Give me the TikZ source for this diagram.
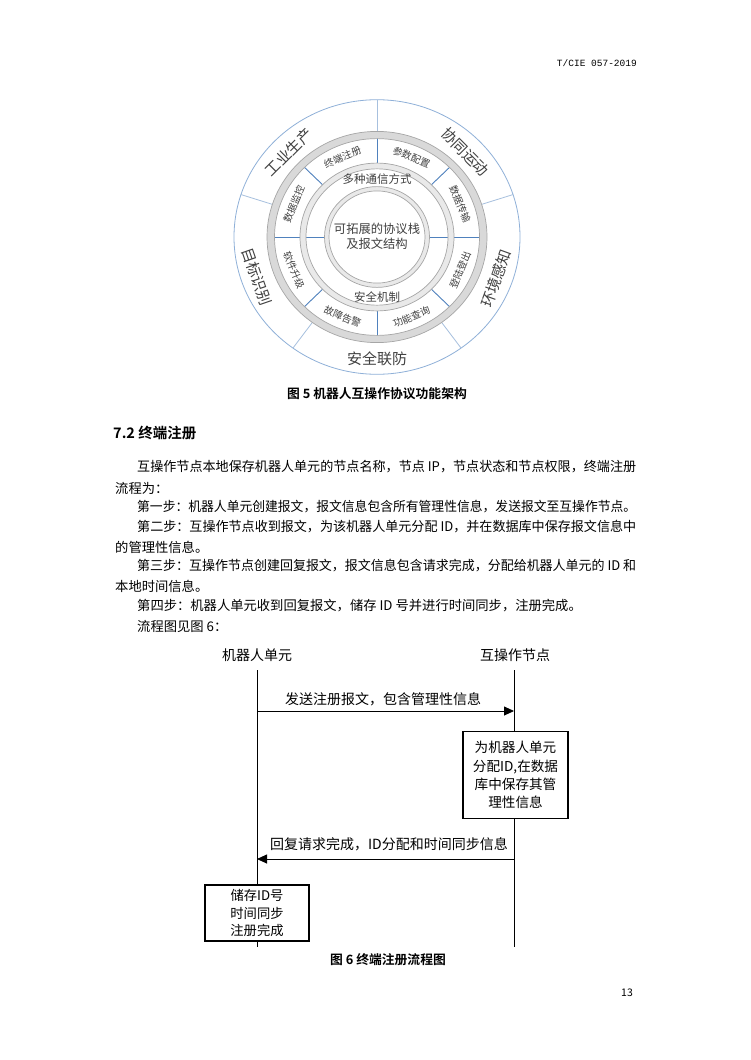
\documentclass[tikz,border=0pt]{standalone}
\usepackage{fontspec}
\usepackage{graphicx}
\setmainfont{Noto Sans CJK SC}[BoldFont={Noto Sans CJK SC Bold}]
\newfontfamily\hdrmono{Liberation Mono}
\usetikzlibrary{arrows.meta}

\definecolor{rimblue}{HTML}{8FB0D8}
\definecolor{spokeblue}{HTML}{4F81BD}
\definecolor{paleblue}{HTML}{A7C0DE}
\definecolor{ringfill}{HTML}{D9D9D9}
\definecolor{ringedge}{HTML}{A6A6A6}
\definecolor{thinfill}{HTML}{E9E9E9}
\definecolor{figtext}{HTML}{404040}

% one justified body line
\newcommand{\fullline}[1]{\resizebox{499pt}{\height}{#1}}

\begin{document}
\begin{tikzpicture}[
    x=1pt, y=1pt,
    font=\fontsize{13.3}{16}\selectfont,
    every node/.style={inner sep=0pt},
    body/.style={anchor=west},
    caption/.style={font=\fontsize{12.8}{15}\selectfont\bfseries},
    outlbl/.style={text=figtext, font=\fontsize{15}{17}\selectfont},
    seclbl/.style={text=figtext, font=\fontsize{9.8}{11}\selectfont},
    midlbl/.style={text=figtext, font=\fontsize{11.5}{13}\selectfont},
    rim/.style={draw=rimblue, line width=0.8},
    outspoke/.style={draw=paleblue, line width=0.8},
    inspoke/.style={draw=spokeblue, line width=0.9},
    ringedgeline/.style={draw=ringedge, line width=0.7},
    lane/.style={font=\fontsize{14}{16}\selectfont},
    lifeline/.style={line width=0.9},
    msg/.style={line width=0.9, -{Triangle[length=10pt, width=9pt]}},
    msglbl/.style={font=\fontsize{14}{16}\selectfont},
    procbox/.style={draw, line width=1.1, fill=white, align=center},
  ]

  % --- Page -----------------------------------------------------------------
  \fill[white] (0,0) rectangle (750,-1060);
  \useasboundingbox (0,0) rectangle (750,-1060);

  \node[anchor=east, font=\hdrmono\fontsize{9.5}{11}\selectfont] (hdr)
    at (637,-63) {T/CIE 057-2019};
  \node[font=\fontsize{10.5}{12}\selectfont] (pageno) at (627,-993) {13};

  % --- Figure 5: protocol rings --------------------------------------------
  \begin{scope}[shift={(377,-237)}, yscale=0.96]
    \draw[rim] (0,0) circle (143);
    \foreach \a in {18,90,162,234,306}
      \draw[outspoke] (\a:110) -- (\a:143);

    \foreach \a in {45,90,135,225,270,315}
      \draw[inspoke] (\a:77) -- (\a:103);
    \foreach \a in {0,180}
      \draw[inspoke] (\a:50) -- (\a:103);

    % thick grey ring
    \path[fill=ringfill, even odd rule] (0,0) circle (110) (0,0) circle (102.5);
    \draw[ringedgeline] (0,0) circle (110) (0,0) circle (102.5);
    % middle ring
    \path[fill=thinfill, even odd rule] (0,0) circle (77) (0,0) circle (71);
    \draw[ringedgeline] (0,0) circle (77) (0,0) circle (71);
    % inner ring
    \path[fill=thinfill, even odd rule] (0,0) circle (52.5) (0,0) circle (48);
    \draw[ringedgeline] (0,0) circle (52.5) (0,0) circle (48);

    \node[outlbl, rotate=45]  (prod)  at (135:125) {工业生产};
    \node[outlbl, rotate=-45] (coop)  at (45:125)  {协同运动};
    \node[outlbl, rotate=70]  (envi)  at (-20:127) {环境感知};
    \node[outlbl]             (safe)  at (270:127) {安全联防};
    \node[outlbl, rotate=-71] (targ)  at (199:127) {目标识别};

    \node[seclbl, rotate=22.5]  (reg)   at (112.5:90)  {终端注册};
    \node[seclbl, rotate=-22.5] (param) at (67.5:90)   {参数配置};
    \node[seclbl, rotate=-67.5] (trans) at (22.5:90)   {数据传输};
    \node[seclbl, rotate=67.5]  (login) at (-22.5:90)  {登陆登出};
    \node[seclbl, rotate=22.5]  (query) at (-67.5:90)  {功能查询};
    \node[seclbl, rotate=-22.5] (alarm) at (-112.5:90) {故障告警};
    \node[seclbl, rotate=-67.5] (upgr)  at (-157.5:90) {软件升级};
    \node[seclbl, rotate=67.5]  (moni)  at (157.5:90)  {数据监控};

    \node[midlbl] (comm) at (90:60)  {多种通信方式};
    \node[midlbl] (secu) at (270:63) {安全机制};
    \node[midlbl, align=center, font=\fontsize{12.3}{15}\selectfont] (core)
      at (0,1) {可拓展的协议栈\\及报文结构};
  \end{scope}

  \node[caption] (cap5) at (377,-394) {图 5 机器人互操作协议功能架构};

  % --- Section 7.2 ----------------------------------------------------------
  \node[body, font=\fontsize{14.5}{17}\selectfont\bfseries] (sec)
    at (113,-433) {7.2 终端注册};

  \node[body] (p1) at (137,-467)
    {\fullline{互操作节点本地保存机器人单元的节点名称，节点 IP，节点状态和节点权限，终端注册}};
  \node[body] (p2) at (115,-488) {流程为：};
  \node[body] (p3) at (137,-507)
    {\fullline{第一步：机器人单元创建报文，报文信息包含所有管理性信息，发送报文至互操作节点。}};
  \node[body] (p4) at (137,-527)
    {\fullline{第二步：互操作节点收到报文，为该机器人单元分配 ID，并在数据库中保存报文信息中}};
  \node[body] (p5) at (115,-547) {的管理性信息。};
  \node[body] (p6) at (137,-566)
    {\fullline{第三步：互操作节点创建回复报文，报文信息包含请求完成，分配给机器人单元的 ID 和}};
  \node[body] (p7) at (115,-586) {本地时间信息。};
  \node[body] (p8) at (137,-606) {第四步：机器人单元收到回复报文，储存 ID 号并进行时间同步，注册完成。};
  \node[body] (p9) at (137,-626) {流程图见图 6：};

  % --- Figure 6: registration sequence -------------------------------------
  \node[lane] (robot) at (257,-655) {机器人单元};
  \node[lane] (iop)   at (515,-655) {互操作节点};

  \coordinate (robtop) at (257,-670);
  \coordinate (robbot) at (257,-947);
  \coordinate (ioptop) at (514,-670);
  \coordinate (iopbot) at (514,-947);
  \draw[lifeline] (robtop) -- (robbot);
  \draw[lifeline] (ioptop) -- (iopbot);

  \coordinate (req) at (0,-711);
  \draw[msg] (robtop |- req) -- (ioptop |- req);
  \node[msglbl] (reqlbl) at (383,-699) {发送注册报文，包含管理性信息};

  \node[procbox, minimum width=105, minimum height=87,
        font=\fontsize{13.6}{18.3}\selectfont] (assign) at (515.5,-775)
    {为机器人单元\\分配ID,在数据\\库中保存其管\\理性信息};

  \coordinate (rep) at (0,-859);
  \draw[msg] (ioptop |- rep) -- (robtop |- rep);
  \node[msglbl] (replbl) at (389,-844) {回复请求完成，ID分配和时间同步信息};

  \node[procbox, minimum width=104, minimum height=56,
        font=\fontsize{13.3}{17.3}\selectfont] (store) at (257,-913)
    {储存ID号\\时间同步\\注册完成};

  \node[caption] (cap6) at (388,-960) {图 6 终端注册流程图};

\end{tikzpicture}
\end{document}
